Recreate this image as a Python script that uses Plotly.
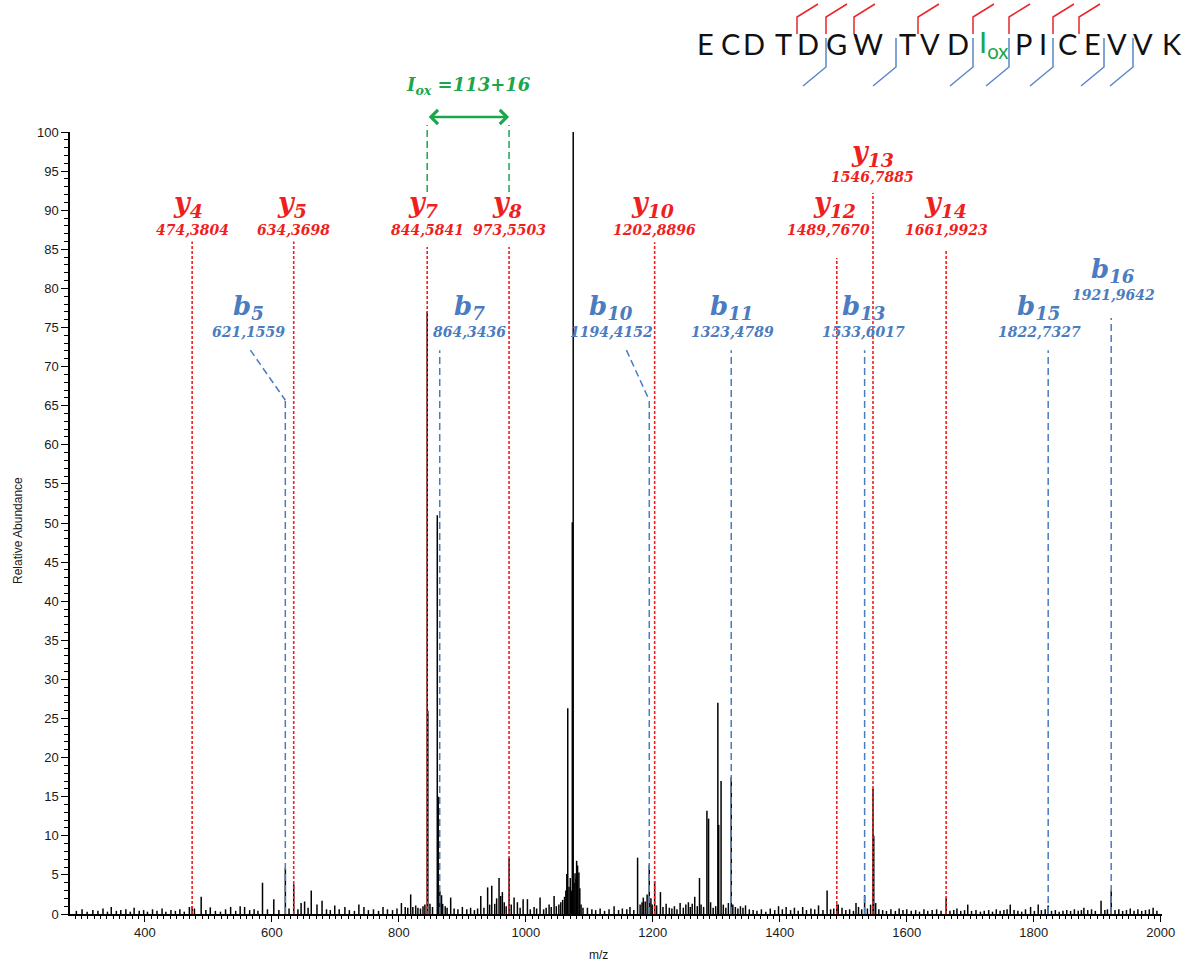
import plotly.graph_objects as go

# ---------------------------------------------------------------- data
# Centroided MS/MS peaks: m/z and relative abundance (%)
peak_mz = [
    474.4, 488.6, 585.2, 603.0, 621.2, 634.4, 646.0, 651.5, 662.0, 671.0, 679.0,
    804.0, 818.6, 844.6, 845.6, 860.5, 862.0, 864.6, 867.2, 881.6,
    929.0, 939.8, 946.3, 957.8, 960.4, 963.0, 973.6, 981.5, 995.7, 1002.5,
    1022.4, 1044.5, 1064.5, 1066.0, 1070.0, 1073.2, 1074.6, 1077.5, 1080.0,
    1081.5, 1083.6, 1176.0, 1185.0, 1194.4, 1202.9, 1212.0, 1266.0, 1273.5,
    1285.2, 1287.8, 1302.4, 1303.8, 1307.5, 1323.5, 1474.5, 1533.6, 1546.8,
    1548.0, 1662.0, 1906.0, 1922.0,
]
peak_rel = [
    1.0, 2.2, 4.0, 1.9, 5.9, 3.8, 1.4, 1.6, 3.0, 1.2, 1.7,
    1.4, 2.5, 77.0, 26.0, 51.0, 15.0, 2.9, 2.4, 2.1,
    2.3, 3.4, 3.6, 4.6, 2.3, 2.8, 7.2, 2.1, 1.9, 1.9,
    2.1, 2.3, 5.1, 26.3, 4.6, 50.1, 100.0, 5.2, 6.8,
    6.2, 5.3, 7.2, 2.1, 6.3, 4.2, 2.8, 2.2, 4.6,
    13.2, 12.2, 27.0, 11.4, 17.0, 17.5, 3.0, 2.4, 16.0,
    10.0, 2.1, 1.7, 3.0,
]

# Low-level background peaks
noise_mz = [
    292, 301, 309, 318, 326, 334, 341, 347, 355, 362, 370, 377, 383, 391, 398,
    404, 412, 419, 427, 433, 441, 448, 455, 462, 470, 478, 496, 503, 511, 519,
    527, 535, 543, 550, 557, 565, 572, 578, 593, 611, 627, 641, 657, 686, 692,
    699, 706, 715, 722, 730, 737, 745, 752, 760, 768, 775, 782, 790, 797, 810,
    814, 822, 826.5, 830, 834, 838, 841, 849, 853, 869, 873, 876, 887, 893, 900,
    907, 913, 919, 924, 934, 943, 951, 954, 966, 969, 977, 986.7, 991, 1007,
    1013, 1017, 1028, 1032, 1036.6, 1040, 1048, 1052, 1055, 1058, 1061, 1063,
    1068, 1071.5, 1076, 1079, 1085, 1087, 1090, 1097, 1104, 1110, 1117, 1124,
    1131, 1139, 1146, 1152, 1159, 1164, 1170, 1180, 1183, 1188, 1191, 1197,
    1199, 1206, 1216, 1221, 1226, 1230, 1234, 1238, 1243, 1248, 1252, 1256,
    1259, 1262, 1270, 1276, 1280, 1291, 1295, 1299, 1311, 1315, 1319, 1326,
    1330, 1334, 1338, 1342, 1346, 1352, 1358, 1364, 1371, 1378, 1385, 1392,
    1398, 1404, 1410, 1417, 1423, 1429, 1436, 1442, 1449, 1455, 1461, 1468,
    1480, 1485, 1489.8, 1492, 1498, 1504, 1510, 1516, 1520, 1524, 1529, 1538,
    1543, 1551, 1556, 1562, 1568, 1575, 1582, 1588, 1594, 1600, 1607, 1614,
    1620, 1627, 1633, 1640, 1647, 1654, 1668, 1674, 1679, 1685, 1691, 1696,
    1702, 1709, 1716, 1722, 1729, 1735, 1741, 1747, 1753, 1758, 1763, 1769,
    1775, 1781, 1787, 1795, 1801, 1807, 1812, 1818, 1822.7, 1828, 1834, 1840,
    1846, 1852, 1858, 1864, 1870, 1875, 1879, 1885, 1891, 1897, 1912, 1916,
    1928, 1934, 1940, 1946, 1952, 1958, 1964, 1970, 1976, 1982, 1988, 1994,
]
noise_rel = [
    0.4, 0.6, 0.3, 0.5, 0.4, 0.7, 0.3, 0.9, 0.4, 0.5, 0.6, 0.3, 0.8, 0.4, 0.5,
    0.3, 0.6, 0.4, 0.7, 0.3, 0.5, 0.4, 0.6, 0.3, 0.9, 0.7, 0.5, 0.85, 0.4, 0.3,
    0.6, 0.9, 0.4, 1.0, 0.9, 0.5, 0.6, 0.4, 0.6, 0.5, 0.7, 0.6, 0.8, 0.6, 0.5,
    1.1, 0.6, 0.9, 0.5, 0.4, 1.2, 0.9, 0.5, 0.6, 0.4, 0.9, 0.6, 0.5, 0.7, 0.9,
    0.8, 0.9, 1.1, 0.8, 0.7, 1.0, 1.2, 1.3, 0.9, 1.3, 1.0, 0.8, 0.7, 0.6, 0.9,
    0.6, 0.8, 0.5, 0.7, 0.8, 1.2, 1.3, 2.0, 1.5, 1.0, 1.2, 1.5, 0.8, 0.6,
    0.9, 0.7, 0.6, 0.8, 1.2, 0.9, 1.0, 1.2, 1.5, 1.8, 2.2, 3.0,
    3.5, 3.0, 4.0, 4.5, 3.3, 1.2, 0.8, 0.8, 0.6, 0.5, 0.7, 0.4,
    0.6, 1.0, 0.5, 0.7, 0.6, 0.9, 0.5, 1.2, 1.5, 1.6, 2.5, 2.0,
    1.2, 1.1, 0.9, 1.3, 0.8, 0.7, 1.0, 0.6, 1.4, 0.8, 1.2, 1.5,
    0.9, 1.3, 1.0, 1.2, 0.9, 1.5, 0.8, 1.0, 1.2, 0.8, 1.4, 1.2,
    0.9, 0.7, 1.0, 0.8, 1.1, 0.6, 0.5, 0.4, 0.6, 0.3, 0.7, 0.5,
    1.0, 0.6, 0.9, 0.5, 0.8, 0.4, 0.9, 0.5, 0.7, 0.6, 1.1, 0.5,
    0.6, 0.7, 1.2, 1.2, 0.8, 0.5, 0.6, 0.4, 1.4, 0.9, 0.6, 0.7,
    1.2, 1.4, 0.6, 0.5, 0.4, 0.6, 0.4, 0.7, 0.5, 0.6, 0.4, 0.5,
    0.3, 0.6, 0.4, 0.5, 0.6, 0.4, 0.4, 0.5, 0.7, 0.4, 0.5, 1.2,
    0.4, 0.5, 0.3, 0.4, 0.5, 0.3, 0.6, 0.4, 0.5, 0.6, 1.2, 0.5,
    0.4, 0.3, 0.6, 0.9, 0.4, 1.2, 0.5, 0.6, 1.1, 0.4, 0.5, 0.3,
    0.4, 0.5, 0.4, 0.6, 0.4, 0.5, 0.8, 0.5, 0.6, 0.4, 0.5, 0.6,
    0.5, 0.6, 0.4, 0.5, 0.7, 0.4, 0.6, 0.4, 0.5, 0.6, 0.8, 0.4,
]

# Assigned fragment ions
y_ion_num = [4, 5, 7, 8, 10, 12, 13, 14]
y_ion_mz = [474.3804, 634.3698, 844.5841, 973.5503, 1202.8896, 1489.7670, 1546.7885, 1661.9923]
b_ion_num = [5, 7, 10, 11, 13, 15, 16]
b_ion_mz = [621.1559, 864.3436, 1194.4152, 1323.4789, 1533.6017, 1822.7327, 1921.9642]

# Peptide sequence (position 11 is the oxidised isoleucine)
sequence = ["E", "C", "D", "T", "D", "G", "W", "T", "V", "D", "I", "P", "I", "C", "E", "V", "V", "K"]
oxidized_pos = 11
ox_mass_text = "=113+16"

x_tick_vals = list(range(400, 2001, 200))
y_tick_vals = list(range(0, 101, 5))

# ---------------------------------------------------------------- styling
RED = "#f01f1f"
BLUE = "#4a7cbf"
GREEN = "#1ba64b"
SERIF = "DejaVu Serif"

W, H = 1203, 969
PL, PR, PT, PB = 70, 1162, 132, 914   # plot area edges (px)
X_RANGE = [282, 2002]


def pxx(px):
    return (px - PL) / (PR - PL)


def pxy(py):
    return (PB - py) / (PB - PT)


def mz_text(v):
    return f"{v:.4f}".replace(".", ",")


# per-ion label placement: letter/number heights (% scale), nudges (px), line top
y_place = {
    4: dict(ly=90.7, ny=87.5, dx=-4, ndx=0, top=86.0),
    5: dict(ly=90.7, ny=87.5, dx=-2, ndx=0, top=86.0),
    7: dict(ly=90.7, ny=87.5, dx=-4, ndx=0, top=85.3),
    8: dict(ly=90.7, ny=87.5, dx=-2, ndx=0, top=85.3),
    10: dict(ly=90.7, ny=87.5, dx=-2, ndx=0, top=85.9),
    12: dict(ly=90.7, ny=87.5, dx=-2, ndx=-8, top=83.9),
    13: dict(ly=97.3, ny=94.3, dx=0, ndx=0, top=92.2),
    14: dict(ly=90.7, ny=87.5, dx=-1, ndx=0, top=84.9),
}
b_place = {
    5: dict(ly=77.6, ny=74.4, dx=-37, top=72.1, bend=65.7, lead=55),
    7: dict(ly=77.6, ny=74.4, dx=30, top=72.1),
    10: dict(ly=77.6, ny=74.4, dx=-38, top=72.1, bend=65.7, lead=36),
    11: dict(ly=77.6, ny=74.4, dx=1, top=72.1),
    13: dict(ly=77.6, ny=74.4, dx=-1, top=72.1),
    15: dict(ly=77.6, ny=74.4, dx=-9, top=72.1),
    16: dict(ly=82.3, ny=79.2, dx=2, top=76.2),
}

# sequence glyph centres and cleavage positions (px, top banner)
seq_px = [705, 730, 754, 783, 808, 837, 868, 907, 930, 958, 982, 1023, 1043, 1067, 1092, 1117, 1143, 1172]
cut_px = {4: 797, 5: 826, 6: 854, 7: 896, 8: 918, 10: 973, 11: 1009, 13: 1053, 14: 1079, 15: 1104, 16: 1133}
SEQ_Y = 43

# ---------------------------------------------------------------- figure
fig = go.Figure()

xs, ys = [], []
for m, h in zip(noise_mz + peak_mz, noise_rel + peak_rel):
    xs += [m, m, None]
    ys += [0, h, None]
fig.add_trace(go.Scatter(x=xs, y=ys, mode="lines", line=dict(color="black", width=1.5),
                         hoverinfo="skip", showlegend=False))

shapes = []
ann = []


def paper_note(px, py, text, font, **kw):
    d = dict(x=pxx(px), y=pxy(py), xref="paper", yref="paper", xanchor="center",
             yanchor="middle", showarrow=False, text=text, font=font)
    d.update(kw)
    return d


# y ions
for n, m in zip(y_ion_num, y_ion_mz):
    p = y_place[n]
    shapes.append(dict(type="line", xref="x", yref="y", x0=m, x1=m, y0=0, y1=p["top"],
                       line=dict(color=RED, width=1.6, dash="3px,2px")))
    ann.append(dict(x=m, y=p["ly"], xref="x", yref="y", xshift=p["dx"], showarrow=False,
                    xanchor="center", yanchor="middle",
                    text=f"<b><i>y<sub>{n}</sub></i></b>",
                    font=dict(family=SERIF, size=27, color=RED)))
    ann.append(dict(x=m, y=p["ny"], xref="x", yref="y", xshift=p["ndx"], showarrow=False,
                    xanchor="center", yanchor="middle",
                    text=f"<b><i>{mz_text(m)}</i></b>",
                    font=dict(family=SERIF, size=14, color=RED)))

# b ions
for n, m in zip(b_ion_num, b_ion_mz):
    p = b_place[n]
    dash_line = dict(color=BLUE, width=1.5, dash="7px,4px")
    if "bend" in p:
        shapes.append(dict(type="line", xref="x", yref="y", x0=m, x1=m, y0=0, y1=p["bend"],
                           line=dash_line))
        shapes.append(dict(type="line", xref="x", yref="y", x0=m - p["lead"], x1=m,
                           y0=p["top"], y1=p["bend"], line=dash_line))
    else:
        shapes.append(dict(type="line", xref="x", yref="y", x0=m, x1=m, y0=0, y1=p["top"],
                           line=dash_line))
    ann.append(dict(x=m, y=p["ly"], xref="x", yref="y", xshift=p["dx"], showarrow=False,
                    xanchor="center", yanchor="middle",
                    text=f"<b><i>b<sub>{n}</sub></i></b>",
                    font=dict(family=SERIF, size=26, color=BLUE)))
    ann.append(dict(x=m, y=p["ny"], xref="x", yref="y", xshift=p["dx"], showarrow=False,
                    xanchor="center", yanchor="middle",
                    text=f"<b><i>{mz_text(m)}</i></b>",
                    font=dict(family=SERIF, size=14, color=BLUE)))

# mass difference between y7 and y8 (oxidised Ile)
ya, yb = y_ion_mz[y_ion_num.index(7)], y_ion_mz[y_ion_num.index(8)]
for m in (ya, yb):
    shapes.append(dict(type="line", xref="x", yref="paper", x0=m, x1=m,
                       y0=pxy(192), y1=pxy(125),
                       line=dict(color=GREEN, width=1.5, dash="7px,4px")))
ann.append(dict(x=yb, y=pxy(117), xref="x", yref="paper", ax=ya, axref="x", ay=0, ayref="pixel",
                text="", showarrow=True, arrowside="end+start", arrowhead=4, arrowsize=1.1,
                arrowwidth=2.5, arrowcolor=GREEN, standoff=0, startstandoff=0))
ann.append(dict(x=(ya + yb) / 2, y=pxy(86), xref="x", yref="paper", showarrow=False,
                xanchor="center", yanchor="middle",
                text=f"<b><i>I<sub>ox</sub> {ox_mass_text}</i></b>",
                font=dict(family=SERIF, size=18, color=GREEN)))

# peptide sequence banner
for i, (aa, px) in enumerate(zip(sequence, seq_px), start=1):
    if i == oxidized_pos:
        ann.append(paper_note(px - 5, SEQ_Y, f"{aa}<sub>ox</sub>",
                              dict(family="Lato", size=29, color=GREEN), xanchor="left"))
    else:
        ann.append(paper_note(px, SEQ_Y, aa, dict(family="Lato", size=29, color="#111111")))

for n in y_ion_num:
    gx = cut_px[len(sequence) - n]
    shapes.append(dict(type="path", xref="paper", yref="paper",
                       path=f"M {pxx(gx)},{pxy(34)} L {pxx(gx)},{pxy(17)} L {pxx(gx + 21)},{pxy(4)}",
                       line=dict(color="#e8262b", width=1.5)))
for n in b_ion_num:
    gx = cut_px[n]
    shapes.append(dict(type="path", xref="paper", yref="paper",
                       path=f"M {pxx(gx)},{pxy(38)} L {pxx(gx)},{pxy(67)} L {pxx(gx - 23)},{pxy(86)}",
                       line=dict(color="#5a86c8", width=1.5)))

# axis titles
title_font = dict(family="Liberation Sans", size=12, color="#1a1a1a")
ann.append(paper_note(18, 531, "Relative Abundance", title_font, textangle=-90))
ann.append(paper_note(598, 955, "m/z", title_font))

axis_font = dict(family="Liberation Sans", size=13, color="#1a1a1a")
fig.update_layout(
    width=W, height=H,
    margin=dict(l=PL, r=W - PR, t=PT, b=H - PB),
    paper_bgcolor="white", plot_bgcolor="white",
    shapes=shapes, annotations=ann, showlegend=False,
    xaxis=dict(range=X_RANGE, showgrid=False, zeroline=False,
               showline=True, linecolor="black", linewidth=1.5,
               tickmode="array", tickvals=x_tick_vals,
               ticks="outside", ticklen=6, tickwidth=1.3, tickcolor="black",
               minor=dict(dtick=10, ticks="outside", ticklen=3, tickwidth=1, tickcolor="black"),
               tickfont=axis_font),
    yaxis=dict(range=[0, 100], showgrid=False, zeroline=False,
               showline=True, linecolor="black", linewidth=1.5,
               tickmode="array", tickvals=y_tick_vals,
               ticks="outside", ticklen=7, tickwidth=1.3, tickcolor="black",
               minor=dict(dtick=1, ticks="outside", ticklen=4, tickwidth=1, tickcolor="black"),
               tickfont=axis_font),
)

fig.write_html("out.html")
